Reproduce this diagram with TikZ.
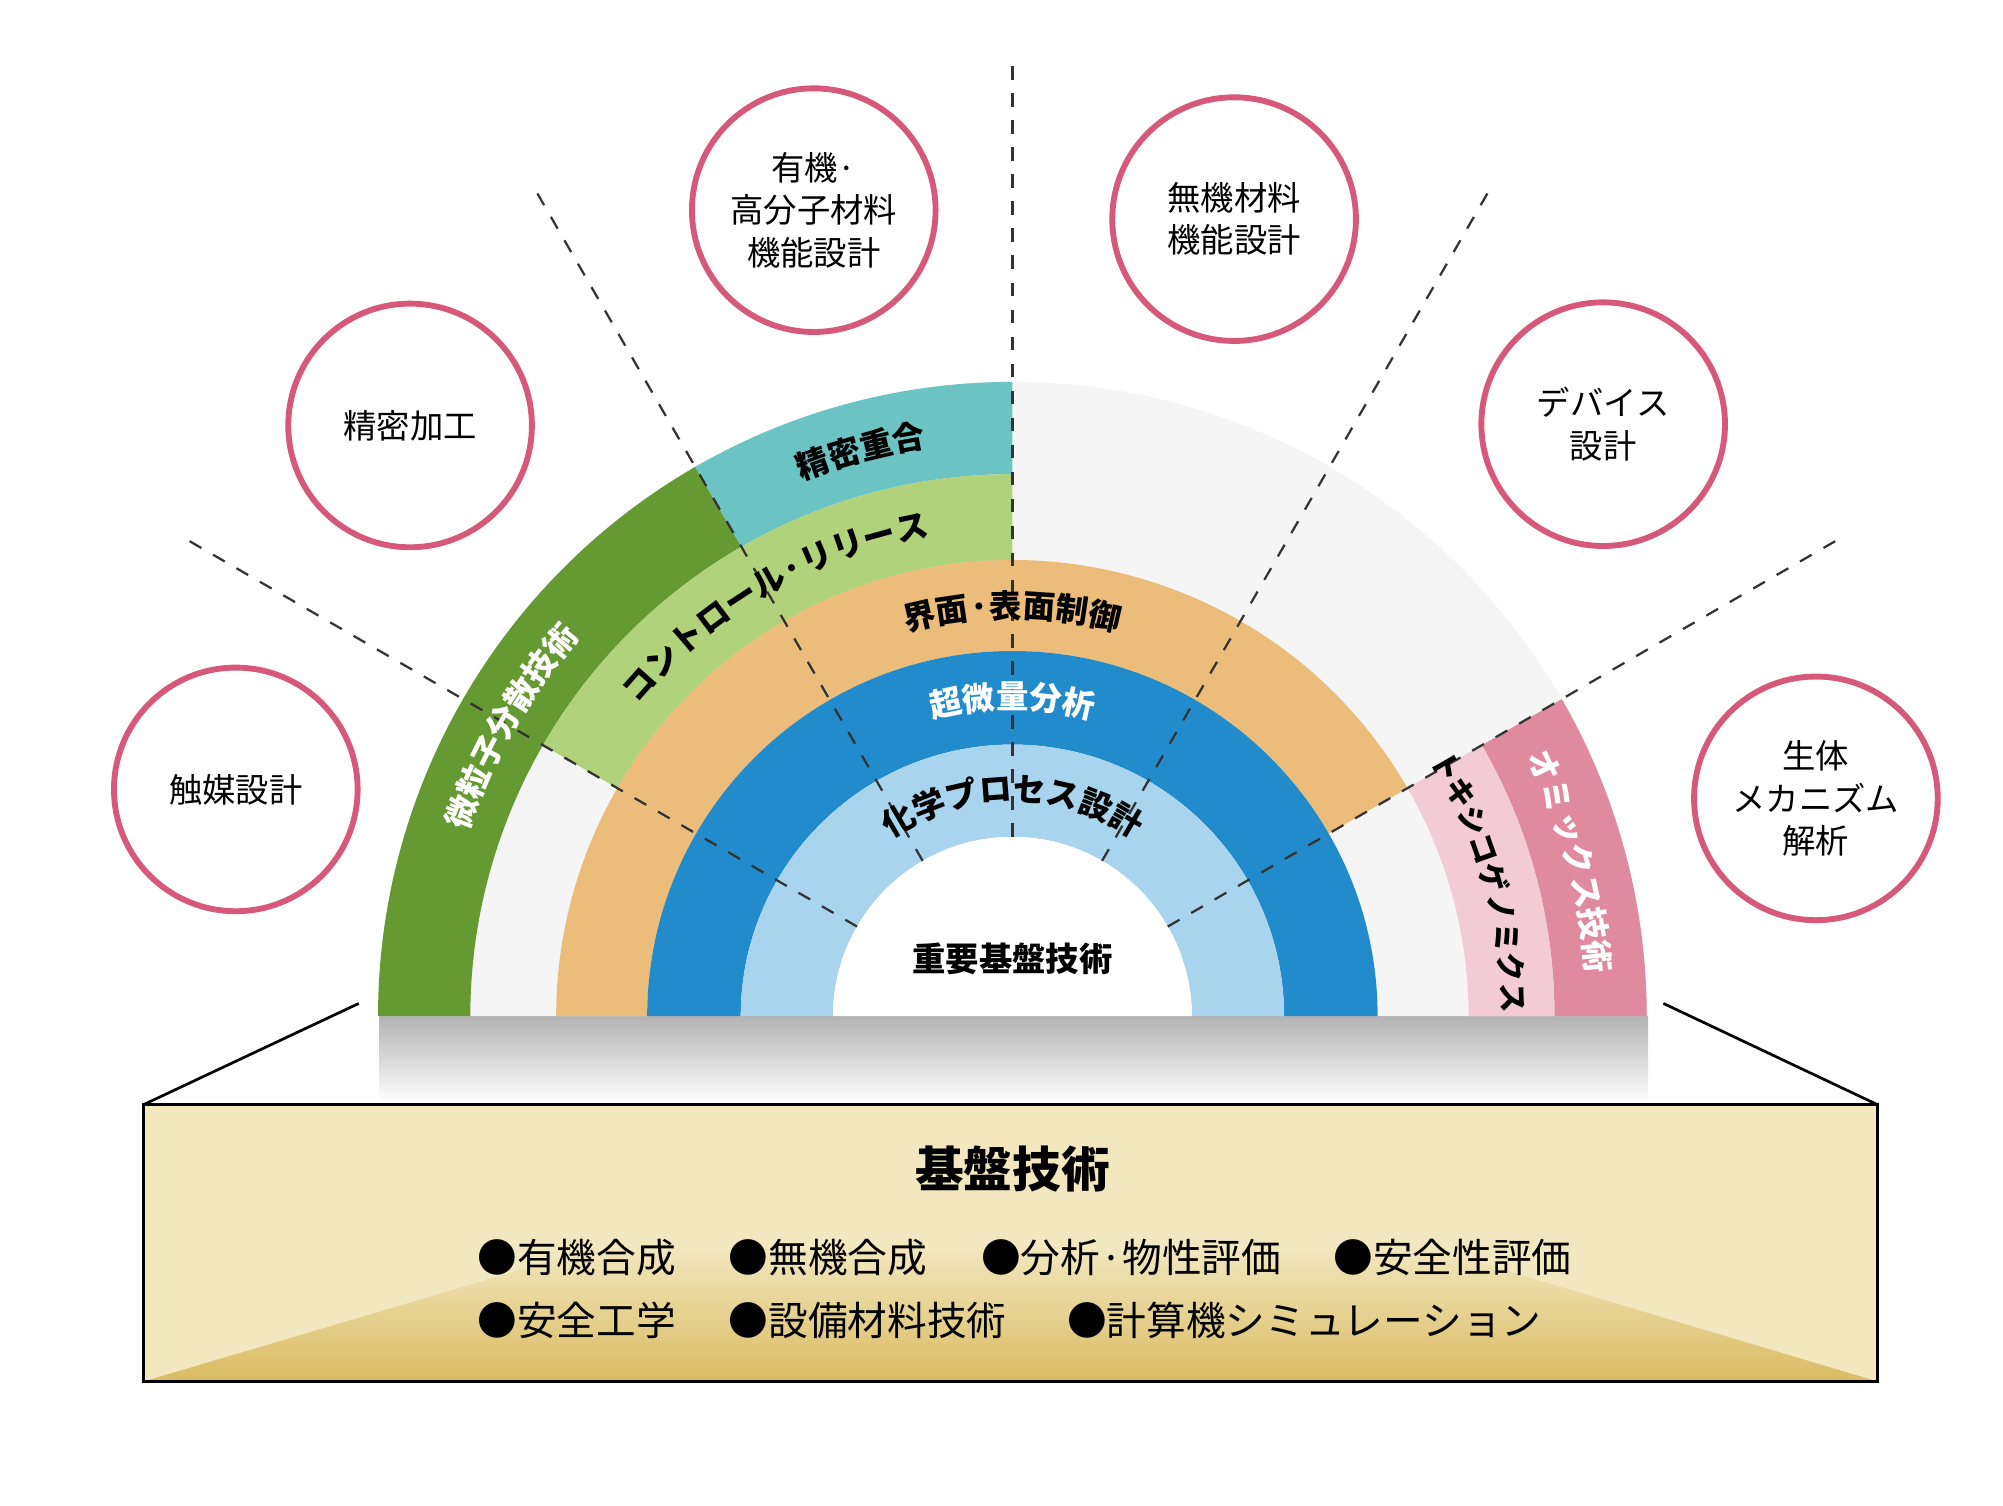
\documentclass[tikz,border=0pt]{standalone}
\usepackage{fontspec}
\setmainfont{Noto Sans CJK JP}
\newfontfamily\jp{Noto Sans CJK JP}
\usetikzlibrary{decorations.text}
\definecolor{cgreen}{HTML}{659A33}
\definecolor{cteal}{HTML}{6CC3C4}
\definecolor{clgreen}{HTML}{B0D27A}
\definecolor{cpink}{HTML}{E08AA0}
\definecolor{clpink}{HTML}{F2CBD5}
\definecolor{corange}{HTML}{EBBC7A}
\definecolor{cblue}{HTML}{228BCC}
\definecolor{clblue}{HTML}{A8D4EE}
\definecolor{cbg}{HTML}{F5F5F5}
\definecolor{ccirc}{HTML}{D6587A}
\definecolor{cbox}{HTML}{F3E7BF}
\definecolor{cgold}{HTML}{D9BB62}
\newcommand\mysector[5]{\fill[#1] (#2:#5) arc[start angle=#2,end angle=#3,radius=#5] -- (#3:#4) arc[start angle=#3,end angle=#2,radius=#4] -- cycle;}
\newcommand\arclabel[6][7.2]{\path[decorate,decoration={text along path,text align=center,text={|\fontsize{#1}{9}\selectfont\bfseries\color{#2}|#3}}] (#4:#6) arc[start angle=#4,end angle=#5,radius=#6];}
\tikzset{
 circ/.style={circle,draw=ccirc,line width=1.3pt,minimum size=1.9cm,inner sep=0pt,align=center,font=\fontsize{7.4}{9.4}\selectfont},
 dline/.style={dashed,line width=0.5pt,black!80},
 item/.style={anchor=west,font=\fontsize{8.8}{11}\selectfont,inner sep=0pt}
}
\begin{document}
\begin{tikzpicture}[x=0.01cm,y=0.01cm]
\useasboundingbox (0,0) rectangle (1563,1175);
\fill[white] (0,0) rectangle (1563,1175);
% shadow
\shade[top color=black!30,bottom color=white] (296,382) rectangle (1286,315);
% box
\fill[cbox] (112,97) rectangle (1465,313);
\shade[top color=cbox,bottom color=cgold] (112,97) -- (470,203) -- (1110,203) -- (1465,97) -- cycle;
\draw[line width=0.6pt] (112,97) rectangle (1465,313);
\coordinate (tl) at (280,392); \coordinate (bl) at (112,313);
\coordinate (tr) at (1298,392); \coordinate (br) at (1465,313);
\draw[line width=0.6pt] (tl) -- (bl);
\draw[line width=0.6pt] (tr) -- (br);
\node[font=\fontsize{10.8}{13}\selectfont\bfseries] (title) at (790,263) {基盤技術};
\node[item] (i1) at (372,194) {●有機合成};
\node[item] (i2) at (568,194) {●無機合成};
\node[item] (i3) at (765,194) {●分析·物性評価};
\node[item] (i4) at (1040,194) {●安全性評価};
\node[item] (i5) at (372,145) {●安全工学};
\node[item] (i6) at (568,145) {●設備材料技術};
\node[item] (i7) at (832,145) {●計算機シミュレーション};
\begin{scope}[shift={(790,382)}]
\mysector{cbg}{0}{180}{285}{495}
\mysector{cgreen}{120}{180}{423}{495}
\mysector{cteal}{90}{120}{423}{495}
\mysector{clgreen}{90}{150}{356}{423}
\mysector{cpink}{0}{30}{423}{495}
\mysector{clpink}{0}{30}{356}{423}
\mysector{corange}{30}{180}{285}{356}
\mysector{cblue}{0}{180}{212}{285}
\mysector{clblue}{0}{180}{140}{212}
\mysector{white}{0}{180}{0}{140}
\foreach \a in {30,60,90,120,150} {
  \coordinate (s\a) at (\a:140); \coordinate (e\a) at (\a:745);
  \draw[dline] (s\a) -- (e\a);
}
\arclabel{black}{精密重合}{125}{85}{449}
\arclabel{black}{コントロール·リリース}{160}{80}{380}
\arclabel{black}{界面·表面制御}{130}{50}{311}
\arclabel{white}{超微量分析}{125}{55}{240}
\arclabel{black}{化学プロセス設計}{140}{40}{168}
\arclabel{white}{微粒子分散技術}{175}{125}{449}
\arclabel[6.6]{black}{トキシコゲノミクス}{38}{-6}{382}
\arclabel{white}{オミックス技術}{38}{-7}{449}
\node[font=\fontsize{7.4}{9}\selectfont\bfseries] (core) at (0,45) {重要基盤技術};
\end{scope}
\node[circ] (c1) at (320,843) {精密加工};
\node[circ] (c2) at (635,1011) {有機·\\高分子材料\\機能設計};
\node[circ] (c3) at (963,1004) {無機材料\\機能設計};
\node[circ] (c4) at (1251,844) {デバイス\\設計};
\node[circ] (c5) at (184,559) {触媒設計};
\node[circ] (c6) at (1417,552) {生体\\メカニズム\\解析};
\end{tikzpicture}
\end{document}
